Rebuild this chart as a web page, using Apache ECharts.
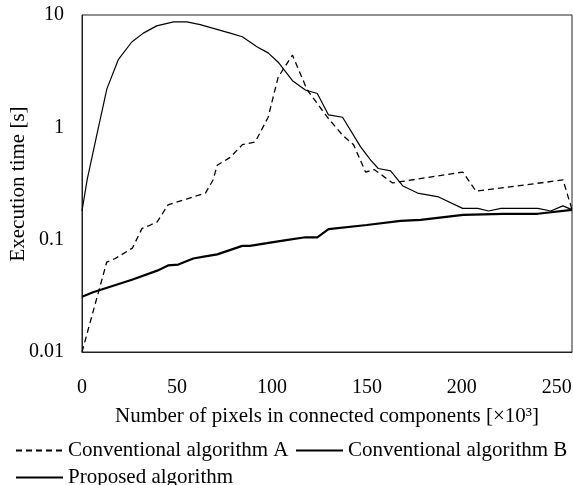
<!DOCTYPE html>
<html>
<head>
<meta charset="utf-8">
<script src="https://cdn.jsdelivr.net/npm/echarts@6/dist/echarts.min.js"></script>
<style>
html,body{margin:0;padding:0;background:#fff;}
#chart{width:573px;height:485px;}
</style>
</head>
<body>
<div id="chart"></div>
<script>
// Conventional algorithm A (dashed)
var xA = [0, 13, 17.5, 26.5, 31.6, 36, 39.6, 45.3, 55, 65, 69, 71.2, 78, 84.4, 91.2, 98, 103.3, 110.8, 118.6, 129.2, 137.2, 143, 149.3, 154, 163.5, 200.5, 207.5, 253.3, 258];
var yA = [0.010, 0.063, 0.068, 0.084, 0.126, 0.135, 0.144, 0.204, 0.23, 0.26, 0.34, 0.46, 0.54, 0.70, 0.74, 1.23, 2.8, 4.4, 2.15, 1.23, 0.85, 0.70, 0.40, 0.42, 0.32, 0.40, 0.27, 0.34, 0.185];
// Conventional algorithm B (thin solid)
var xB = [0, 2.7, 8, 13.1, 19.1, 26.2, 32.3, 39.3, 48.2, 55.2, 62.2, 78, 84.4, 92.3, 98, 103.3, 110.8, 117.6, 123.9, 129.8, 137.2, 146.7, 152, 156, 162.5, 169, 176.7, 187.8, 200.4, 208.4, 214.1, 220.6, 240, 246.8, 253.2, 258];
var yB = [0.18, 0.34, 0.89, 2.2, 4.0, 5.75, 6.9, 8.0, 8.7, 8.7, 8.2, 6.9, 6.4, 5.2, 4.6, 3.8, 2.6, 2.15, 2.0, 1.29, 1.23, 0.67, 0.51, 0.43, 0.41, 0.30, 0.26, 0.24, 0.19, 0.19, 0.18, 0.19, 0.19, 0.18, 0.20, 0.185];
// Proposed algorithm (thick solid)
var xP = [0, 5.8, 26.3, 39.6, 45.3, 50.7, 58.6, 64.9, 71.2, 84.4, 88.4, 97.4, 107.5, 117.6, 123.9, 129.8, 150, 167.7, 178.3, 200.7, 221.6, 240, 258];
var yP = [0.031, 0.034, 0.044, 0.053, 0.059, 0.060, 0.068, 0.071, 0.074, 0.088, 0.088, 0.093, 0.099, 0.105, 0.105, 0.124, 0.135, 0.147, 0.15, 0.166, 0.17, 0.17, 0.184];

var seriesNames = ['Conventional algorithm A', 'Conventional algorithm B', 'Proposed algorithm'];
var xTicks = [0, 50, 100, 150, 200, 250];
var yTicks = [0.01, 0.1, 1, 10];
var xTitle = 'Number of pixels in connected components [×10³]';
var yTitle = 'Execution time [s]';

function pairs(xs, ys) { return xs.map(function (x, i) { return [x, ys[i]]; }); }

var FONT = 'Liberation Serif';
var chart = echarts.init(document.getElementById('chart'), null, {renderer: 'canvas'});
var legendText = {fontFamily: FONT, fontSize: 21, color: '#000'};
var legendCommon = {itemWidth: 47, itemHeight: 14, textStyle: legendText, padding: 0,
  itemStyle: {opacity: 0, borderWidth: 0}};
chart.setOption({
  animation: false,
  backgroundColor: '#fff',
  grid: {left: 82, right: 1, top: 15, bottom: 133, show: true, borderColor: '#222', borderWidth: 1,
    outerBoundsMode: 'none', containLabel: false},
  legend: [
    Object.assign({data: [seriesNames[0]], left: 15, top: 440}, legendCommon),
    Object.assign({data: [seriesNames[1]], left: 295, top: 440}, legendCommon),
    Object.assign({data: [seriesNames[2]], left: 15, top: 467}, legendCommon)
  ],
  graphic: [{
    type: 'text', x: 18, y: 184, rotation: Math.PI / 2, silent: true,
    style: {text: yTitle, fontFamily: FONT, fontSize: 21, fill: '#000',
      textAlign: 'center', textVerticalAlign: 'middle'}
  }],
  xAxis: {
    type: 'value', min: 0, max: 258, interval: 50,
    name: xTitle,
    nameLocation: 'middle', nameGap: 54,
    nameTextStyle: {fontFamily: FONT, fontSize: 21, color: '#000'},
    axisLine: {lineStyle: {color: '#222', width: 1}},
    axisTick: {show: false},
    splitLine: {show: false},
    axisLabel: {
      fontFamily: FONT, fontSize: 20, color: '#000', margin: 26,
      showMaxLabel: true,
      formatter: function (v) { return xTicks.indexOf(v) >= 0 ? String(v) : ''; }
    }
  },
  yAxis: {
    type: 'log', logBase: 10, min: 0.01, max: 10,
    axisLine: {lineStyle: {color: '#222', width: 1}},
    axisTick: {show: false},
    splitLine: {show: false},
    axisLabel: {
      fontFamily: FONT, fontSize: 20, color: '#000', margin: 18,
      formatter: function (v) {
        for (var i = 0; i < yTicks.length; i++) {
          if (Math.abs(v - yTicks[i]) / yTicks[i] < 1e-6) return String(yTicks[i]);
        }
        return '';
      }
    }
  },
  series: [
    {name: seriesNames[0], type: 'line', data: pairs(xA, yA), symbol: 'none', z: 3,
     lineStyle: {color: '#000', width: 1.3, type: [6, 4]}, itemStyle: {color: '#000'}},
    {name: seriesNames[1], type: 'line', data: pairs(xB, yB), symbol: 'none', z: 2,
     lineStyle: {color: '#000', width: 1.2}, itemStyle: {color: '#000'}},
    {name: seriesNames[2], type: 'line', data: pairs(xP, yP), symbol: 'none', z: 4,
     lineStyle: {color: '#000', width: 2.2}, itemStyle: {color: '#000'}}
  ]
});
</script>
</body>
</html>
